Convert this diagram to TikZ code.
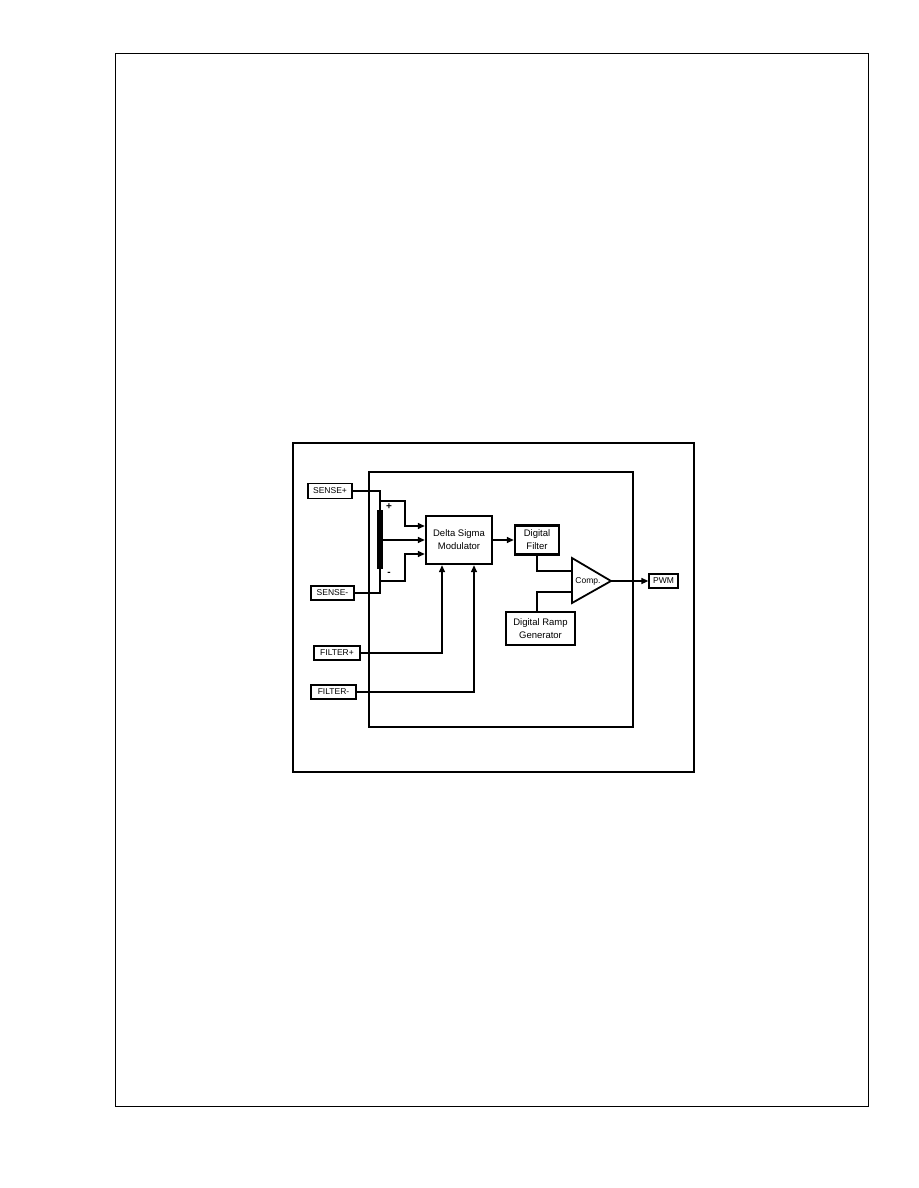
\documentclass[tikz,border=0pt]{standalone}
\usepackage{fontspec}
\setmainfont{Liberation Sans}
\usetikzlibrary{arrows.meta,calc}
\begin{document}
\begin{tikzpicture}[x=1pt,y=-1pt,
  thin line/.style={line width=1pt},
  arr/.style={line width=1.4pt,-{Triangle[length=7pt,width=6pt]}},
  wire/.style={line width=1.4pt},
  pin/.style={draw,line width=1.3pt,inner sep=0pt,minimum height=14pt,font=\fontsize{8.5}{10}\selectfont},
  block/.style={draw,line width=2.4pt,inner sep=0pt,align=center,font=\fontsize{9.5}{13}\selectfont}]
\useasboundingbox (0,0) rectangle (918,1188);
% page frame
\draw[thin line] (115.5,53.5) rectangle (868.5,1106.5);
% diagram frame
\draw[line width=2.6pt] (293,443) rectangle (694,772);
\draw[line width=1.4pt] (369,472) rectangle (633,727);
% pins
\node[pin,minimum width=44pt,minimum height=15pt] (sp) at (330,491) {SENSE+};
\node[pin,minimum width=43pt] (sm) at (332.5,593) {SENSE-};
\node[pin,minimum width=46pt] (fp) at (337,653) {FILTER+};
\node[pin,minimum width=45pt] (fm) at (333.5,692) {FILTER-};
\node[pin,minimum width=29pt] (pwm) at (663.5,581) {PWM};
% bar
\node[fill=black,inner sep=0pt,minimum width=5.5pt,minimum height=59pt] (bar) at (380,539.5) {};
\node[font=\fontsize{10}{11}\selectfont\bfseries,inner sep=0pt] (lp) at (389,507) {+};
\node[font=\fontsize{10}{11}\selectfont\bfseries,inner sep=0pt] (lm) at (389,574) {-};
% blocks
\node[block,minimum width=66pt,minimum height=48pt] (dsm) at (459,540) {Delta Sigma\\Modulator};
\node[block,minimum width=44pt,minimum height=29pt] (df) at (537,540) {Digital\\Filter};
\node[block,minimum width=69pt,minimum height=33pt] (ramp) at (540.5,628.5) {Digital Ramp\\Generator};
% comparator
\coordinate (ct) at (572,558);
\coordinate (cb) at (572,603);
\coordinate (ctip) at (611,581);
\coordinate (cin1) at (572,571);
\coordinate (cin2) at (572,592);
\draw[line width=1.8pt,line join=miter] (ct) -- (ctip) -- (cb) -- cycle;
\node[font=\fontsize{8.5}{10}\selectfont,inner sep=0pt] (clab) at (588,581) {Comp.};
% connections
\coordinate (j1) at (380,501);
\coordinate (j2) at (380,581);
\draw[wire] (sp.east) -| (bar.north);
\draw[wire] (sm.east) -| (bar.south);
\draw[arr] (j1) -- (405,501) -- (405,526) -- (dsm.west |- 0,526);
\draw[arr] (bar.east |- dsm.west) -- (dsm.west);
\draw[arr] (j2) -- (405,581) -- (405,554) -- (dsm.west |- 0,554);
\draw[arr] (fp.east) -| ($(dsm.south)+(-17,0)$);
\draw[arr] (fm.east) -| ($(dsm.south)+(15,0)$);
\draw[arr] (dsm.east) -- (df.west);
\draw[wire] (df.south) |- (cin1);
\draw[wire] (cin2) -| (df.south |- ramp.north);
\draw[arr] (ctip) -- (pwm.west);
\end{tikzpicture}
\end{document}
